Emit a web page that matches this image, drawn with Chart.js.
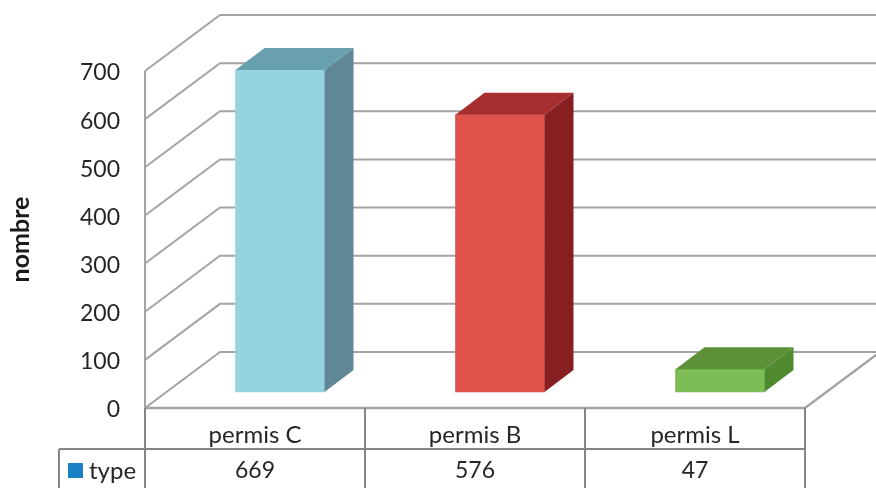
<!DOCTYPE html>
<html>
<head>
<meta charset="utf-8">
<style>
  html, body { margin: 0; padding: 0; background: #fff; }
  canvas { display: block; }
</style>
<script src="https://cdn.jsdelivr.net/npm/chart.js@4"></script>
</head>
<body>
<canvas id="chart" width="876" height="488"></canvas>
<script>
// data
const categories = ["permis C", "permis B", "permis L"];
const values = [669, 576, 47];
const yTicks = [0, 100, 200, 300, 400, 500, 600, 700];
const seriesName = "type";
const frontColors = ["#96d3e0", "#e0534b", "#7cbd56"];
const sideColors = ["#5f8795", "#871f22", "#4f8a2e"];
const topColors = ["#69a0af", "#a52e2f", "#5d9038"];

// 3d look
const wallDx = 75, wallDy = -56;     // floor front edge -> back wall
const barShiftX = 25, barShiftY = -16; // bars float in the middle of the floor
const barDepthX = 29, barDepthY = -22;
const gridColor = "#a4a4a4";
const tableColor = "#858585";
const font = "Lato";

function line(ctx, pts) {
    ctx.beginPath();
    pts.forEach((p, i) => i ? ctx.lineTo(p[0], p[1]) : ctx.moveTo(p[0], p[1]));
    ctx.stroke();
}
function face(ctx, pts, color) {
    ctx.fillStyle = color;
    ctx.beginPath();
    pts.forEach((p, i) => i ? ctx.lineTo(p[0], p[1]) : ctx.moveTo(p[0], p[1]));
    ctx.closePath();
    ctx.fill();
}

const walls = {
    id: "walls",
    beforeDatasetsDraw(chart) {
        const { ctx, chartArea: a, scales: { y } } = chart;
        ctx.save();
        ctx.strokeStyle = gridColor;
        ctx.lineWidth = 2;
        yTicks.forEach(t => {
            const py = y.getPixelForValue(t);
            line(ctx, [[a.left, py], [a.left + wallDx, py + wallDy], [chart.width + 10, py + wallDy]]);
        });
        // left wall edge, floor edges
        line(ctx, [[a.left, y.getPixelForValue(700)], [a.left, a.bottom]]);
        ctx.lineWidth = 2.5;
        line(ctx, [[a.left, a.bottom], [a.right, a.bottom], [a.right + wallDx, a.bottom + wallDy]]);
        ctx.restore();
        // bars are drawn by Chart.js, moved back onto the floor
        ctx.save();
        ctx.translate(barShiftX, barShiftY);
    },
    afterDatasetsDraw(chart) {
        const { ctx } = chart;
        chart.getDatasetMeta(0).data.forEach((bar, i) => {
            const l = bar.x - bar.width / 2, r = bar.x + bar.width / 2;
            const t = bar.y, b = bar.base;
            const dx = barDepthX, dy = barDepthY;
            face(ctx, [[r, t], [r + dx, t + dy], [r + dx, b + dy], [r, b]], sideColors[i]);
            face(ctx, [[l, t], [l + dx, t + dy], [r + dx, t + dy], [r, t]], topColors[i]);
        });
        ctx.restore();
    },
    afterDraw(chart) {
        const { ctx, chartArea: a, scales: { x } } = chart;
        const rowY = 449, colW = (a.right - a.left) / categories.length;
        ctx.save();
        ctx.strokeStyle = tableColor;
        ctx.lineWidth = 2;
        for (let i = 0; i <= categories.length; i++) {
            const px = a.left + i * colW;
            line(ctx, [[px, a.bottom], [px, chart.height]]);
        }
        line(ctx, [[59, rowY], [a.right, rowY]]);
        line(ctx, [[59, rowY], [59, chart.height]]);
        // bottom row of the data table
        ctx.fillStyle = "#262626";
        ctx.font = "23px " + font;
        ctx.textAlign = "center";
        ctx.textBaseline = "middle";
        values.forEach((v, i) => ctx.fillText(String(v), x.getPixelForValue(i), 471));
        ctx.textAlign = "left";
        ctx.font = "24px " + font;
        ctx.fillText(seriesName, 89, 471);
        ctx.fillStyle = "#1a82c4";
        ctx.fillRect(68, 463, 15, 15);
        ctx.restore();
    }
};

new Chart(document.getElementById("chart"), {
    type: "bar",
    data: {
        labels: categories,
        datasets: [{
            label: seriesName,
            data: values,
            backgroundColor: frontColors,
            barThickness: 89,
            borderWidth: 0,
            clip: false
        }]
    },
    options: {
        responsive: false,
        animation: false,
        devicePixelRatio: 1,
        layout: { padding: { top: 71, right: 71, left: 0, bottom: 0 } },
        plugins: { legend: { display: false }, tooltip: { enabled: false } },
        scales: {
            x: {
                grid: { display: false, drawTicks: false },
                border: { display: false },
                ticks: { color: "#262626", font: { family: font, size: 24 }, padding: 13, maxRotation: 0 },
                afterFit(scale) { scale.height = 80; }
            },
            y: {
                min: 0,
                max: 700,
                afterBuildTicks(scale) { scale.ticks = yTicks.map(v => ({ value: v })); },
                grid: { display: false, drawTicks: false },
                border: { display: false },
                // empty first line with a small line height: labels sit 2px under their gridline
                ticks: {
                    color: "#262626",
                    font: { family: font, size: 23, lineHeight: "4px" },
                    padding: 25,
                    callback: v => ["", String(v)]
                },
                title: {
                    display: true,
                    text: "nombre",
                    color: "#1a1a1a",
                    font: { family: font, size: 25, weight: "bold" },
                    padding: { top: 6, bottom: 0 }
                },
                afterFit(scale) { scale.width = 145; }
            }
        }
    },
    plugins: [walls]
});
</script>
</body>
</html>
